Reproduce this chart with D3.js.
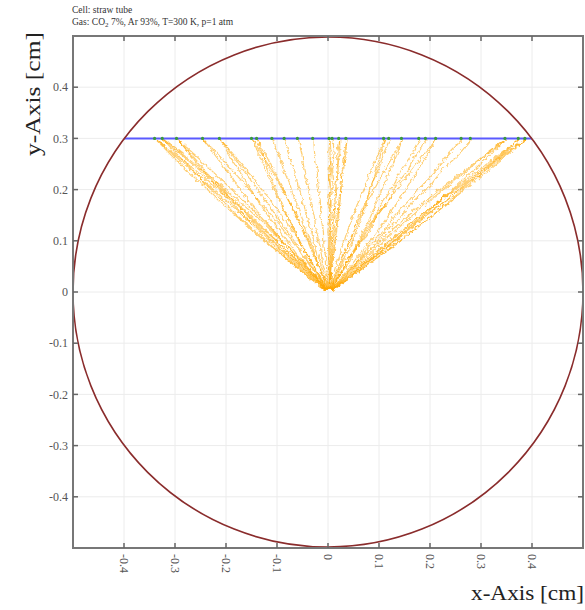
<!DOCTYPE html>
<html lang="en">
<head>
    <meta charset="UTF-8">
    <title>Drift lines - straw tube</title>
    <script src="https://d3js.org/d3.v7.min.js"></script>
    <style>
        body { margin: 0; background: #fff; }
        svg text { font-family: "Liberation Serif", "DejaVu Serif", serif; }
    </style>
</head>
<body>
<div id="chart"></div>
<script>
    // cell + track
    const tubeRadius = 0.5;
    const track = [[-0.4, 0.3], [0.4, 0.3]];
    const ticks = [-0.4, -0.3, -0.2, -0.1, 0, 0.1, 0.2, 0.3, 0.4];
    const tickLabels = ["-0.4", "-0.3", "-0.2", "-0.1", "0", "0.1", "0.2", "0.3", "0.4"];

    // ionisation clusters on the track (x, cm)
    const clusters = [-0.340, -0.325, -0.297, -0.246, -0.213, -0.150, -0.140, -0.110, -0.086,
        -0.060, -0.030, 0.002, 0.008, 0.021, 0.035, 0.109, 0.119, 0.144, 0.178, 0.191,
        0.211, 0.261, 0.279, 0.347, 0.373, 0.386];

    // drift lines: x positions (cm) at these y levels
    const driftY = [0.30, 0.27, 0.24, 0.21, 0.18, 0.15, 0.12, 0.09, 0.06, 0.03, 0.005];
    const driftX = [
        [-.340, -.301, -.262, -.228, -.190, -.157, -.124, -.090, -.061, -.028, -.005],
        [-.340, -.310, -.280, -.246, -.216, -.181, -.148, -.112, -.075, -.039, -.007],
        [-.339, -.305, -.270, -.236, -.201, -.167, -.132, -.099, -.066, -.032, -.005],
        [-.325, -.289, -.254, -.220, -.186, -.153, -.121, -.090, -.059, -.029, -.004],
        [-.325, -.297, -.268, -.239, -.208, -.178, -.144, -.110, -.075, -.038, -.006],
        [-.324, -.286, -.249, -.212, -.177, -.143, -.111, -.081, -.053, -.025, -.003],
        [-.297, -.263, -.231, -.199, -.167, -.137, -.108, -.080, -.052, -.026, -.004],
        [-.297, -.270, -.243, -.215, -.187, -.159, -.129, -.097, -.065, -.033, -.005],
        [-.296, -.272, -.248, -.221, -.194, -.167, -.136, -.104, -.070, -.036, -.006],
        [-.246, -.217, -.190, -.163, -.137, -.111, -.087, -.064, -.042, -.021, -.003],
        [-.246, -.224, -.202, -.180, -.157, -.133, -.107, -.082, -.055, -.028, -.005],
        [-.213, -.187, -.162, -.138, -.114, -.092, -.071, -.052, -.034, -.016, -.003],
        [-.213, -.196, -.177, -.158, -.139, -.119, -.096, -.074, -.050, -.025, -.005],
        [-.212, -.190, -.168, -.146, -.124, -.103, -.081, -.061, -.040, -.020, -.003],
        [-.150, -.131, -.113, -.096, -.079, -.063, -.049, -.035, -.023, -.011, -.002],
        [-.150, -.137, -.124, -.111, -.097, -.083, -.068, -.051, -.035, -.018, -.003],
        [-.140, -.124, -.109, -.094, -.079, -.064, -.050, -.037, -.024, -.012, -.002],
        [-.140, -.130, -.119, -.107, -.095, -.082, -.067, -.052, -.035, -.018, -.003],
        [-.110, -.098, -.089, -.076, -.067, -.054, -.045, -.032, -.023, -.010, -.002],
        [-.086, -.079, -.068, -.061, -.051, -.044, -.034, -.027, -.017, -.009, -.001],
        [-.060, -.053, -.049, -.041, -.037, -.029, -.025, -.017, -.013, -.005, -.001],
        [-.030, -.028, -.023, -.022, -.017, -.016, -.011, -.010, -.005, -.004, .000],
        [.002, .004, .000, .003, -.001, .002, -.002, .001, -.001, .001, .000],
        [.002, -.001, .003, .000, .004, .001, .003, -.001, .002, .000, .001],
        [.008, .010, .005, .008, .003, .006, .002, .004, .001, .002, .000],
        [.021, .017, .018, .013, .014, .009, .010, .005, .006, .002, .001],
        [.021, .021, .015, .016, .010, .012, .006, .008, .003, .003, .000],
        [.035, .030, .029, .023, .022, .016, .015, .010, .008, .003, .001],
        [.035, .033, .026, .026, .019, .019, .012, .012, .005, .005, .001],
        [.109, .096, .083, .071, .058, .047, .036, .027, .017, .009, .001],
        [.109, .101, .093, .084, .074, .065, .053, .041, .028, .014, .002],
        [.119, .106, .097, .082, .073, .058, .049, .035, .025, .011, .002],
        [.144, .127, .109, .093, .077, .062, .048, .035, .023, .011, .002],
        [.144, .133, .120, .107, .094, .082, .067, .052, .035, .018, .003],
        [.178, .162, .141, .127, .105, .091, .070, .055, .035, .019, .002],
        [.191, .170, .155, .131, .117, .093, .079, .055, .040, .017, .003],
        [.211, .192, .174, .155, .136, .116, .094, .072, .048, .024, .004],
        [.211, .185, .162, .139, .116, .094, .074, .054, .035, .017, .003],
        [.261, .233, .210, .181, .158, .129, .106, .077, .054, .025, .004],
        [.279, .254, .222, .199, .166, .142, .110, .086, .054, .030, .003],
        [.347, .308, .271, .234, .197, .162, .128, .094, .062, .031, .005],
        [.347, .315, .284, .251, .217, .184, .148, .112, .075, .038, .006],
        [.346, .306, .267, .228, .190, .154, .120, .088, .057, .028, .004],
        [.373, .340, .306, .271, .237, .201, .162, .123, .083, .042, .007],
        [.373, .334, .294, .255, .217, .179, .142, .106, .070, .034, .005],
        [.372, .337, .300, .264, .228, .191, .153, .115, .077, .039, .006],
        [.386, .342, .301, .259, .218, .178, .140, .104, .068, .034, .005],
        [.386, .349, .313, .276, .239, .201, .162, .122, .082, .042, .007],
        [.385, .346, .307, .267, .228, .189, .150, .113, .075, .038, .006]
    ];

    const width = 585, height = 610;
    const plot = {left: 73, top: 36, right: 583, bottom: 548};

    const x = d3.scaleLinear().domain([-0.5, 0.5]).range([plot.left, plot.right]);
    const y = d3.scaleLinear().domain([-0.5, 0.5]).range([plot.bottom, plot.top]);

    const svg = d3.select("#chart").append("svg")
        .attr("width", width).attr("height", height);

    // jagged look of the drift paths
    const filter = svg.append("defs").append("filter").attr("id", "jitter")
        .attr("x", "-5%").attr("y", "-5%").attr("width", "110%").attr("height", "110%");
    filter.append("feTurbulence").attr("type", "turbulence")
        .attr("baseFrequency", 0.15).attr("numOctaves", 2).attr("seed", 7).attr("result", "n");
    filter.append("feDisplacementMap").attr("in", "SourceGraphic").attr("in2", "n")
        .attr("scale", 4).attr("xChannelSelector", "R").attr("yChannelSelector", "G");

    svg.append("defs").append("clipPath").attr("id", "clip")
        .append("rect").attr("x", plot.left).attr("y", plot.top)
        .attr("width", plot.right - plot.left).attr("height", plot.bottom - plot.top);

    // grid
    const grid = svg.append("g").attr("stroke", "#ececec").attr("stroke-width", 1);
    grid.selectAll(".gx").data(ticks).join("line")
        .attr("x1", d => x(d)).attr("x2", d => x(d))
        .attr("y1", plot.top).attr("y2", plot.bottom);
    grid.selectAll(".gy").data(ticks).join("line")
        .attr("y1", d => y(d)).attr("y2", d => y(d))
        .attr("x1", plot.left).attr("x2", plot.right);

    // drift lines
    const line = d3.line().x(d => x(d[0])).y(d => y(d[1]));
    svg.append("g").attr("filter", "url(#jitter)")
        .selectAll("path").data(driftX).join("path")
        .attr("d", xs => line(xs.map((v, i) => [v, driftY[i]])))
        .attr("fill", "none")
        .attr("stroke", "#ffa800")
        .attr("stroke-opacity", 0.55)
        .attr("stroke-width", 1.2);

    // track
    svg.append("path").attr("d", line(track))
        .attr("stroke", "#5a5aff").attr("stroke-width", 2).attr("fill", "none");
    svg.append("g").selectAll("circle").data(clusters).join("circle")
        .attr("cx", d => x(d)).attr("cy", y(0.3)).attr("r", 1.6)
        .attr("fill", "#3a9a3a");

    // tube wall
    svg.append("circle").attr("clip-path", "url(#clip)")
        .attr("cx", x(0)).attr("cy", y(0)).attr("r", x(tubeRadius) - x(0))
        .attr("fill", "none").attr("stroke", "#8a2c2c").attr("stroke-width", 1.6);

    // frame + ticks
    svg.append("rect").attr("x", plot.left).attr("y", plot.top)
        .attr("width", plot.right - plot.left).attr("height", plot.bottom - plot.top)
        .attr("fill", "none").attr("stroke", "#777").attr("stroke-width", 2);

    const tk = svg.append("g").attr("stroke", "#666").attr("stroke-width", 1.5);
    ticks.forEach(t => {
        tk.append("line").attr("x1", x(t)).attr("x2", x(t)).attr("y1", plot.bottom).attr("y2", plot.bottom - 5);
        tk.append("line").attr("x1", x(t)).attr("x2", x(t)).attr("y1", plot.top).attr("y2", plot.top + 5);
        tk.append("line").attr("y1", y(t)).attr("y2", y(t)).attr("x1", plot.left).attr("x2", plot.left + 5);
        tk.append("line").attr("y1", y(t)).attr("y2", y(t)).attr("x1", plot.right).attr("x2", plot.right - 5);
    });

    // tick labels
    svg.append("g").selectAll("text").data(ticks).join("text")
        .attr("x", plot.left - 5).attr("y", d => y(d)).attr("dy", "0.35em")
        .attr("text-anchor", "end").attr("font-size", 12).attr("fill", "#555")
        .text((d, i) => tickLabels[i]);

    svg.append("g").selectAll("text").data(ticks).join("text")
        .attr("transform", d => `translate(${x(d)},${plot.bottom + 6}) rotate(90)`)
        .attr("dy", "0.35em").attr("text-anchor", "start")
        .attr("font-size", 12).attr("fill", "#555")
        .text((d, i) => tickLabels[i]);

    // axis titles
    svg.append("text").attr("transform", `translate(40,${plot.top - 4}) rotate(-90)`)
        .attr("text-anchor", "end").attr("font-size", 21).attr("fill", "#222")
        .attr("textLength", 124).attr("lengthAdjust", "spacingAndGlyphs")
        .text("y-Axis [cm]");
    svg.append("text").attr("x", plot.right + 1).attr("y", 600)
        .attr("text-anchor", "end").attr("font-size", 21).attr("fill", "#222")
        .attr("textLength", 113).attr("lengthAdjust", "spacingAndGlyphs")
        .text("x-Axis [cm]");

    // header
    svg.append("text").attr("x", 72).attr("y", 13).attr("font-size", 9.5).attr("fill", "#333")
        .text("Cell: straw tube");
    const gas = svg.append("text").attr("x", 72).attr("y", 25).attr("font-size", 9.5).attr("fill", "#333");
    gas.append("tspan").text("Gas: CO");
    gas.append("tspan").attr("font-size", 7).attr("dy", 2).text("2");
    gas.append("tspan").attr("dy", -2).text(" 7%, Ar 93%, T=300 K, p=1 atm");
</script>
</body>
</html>
